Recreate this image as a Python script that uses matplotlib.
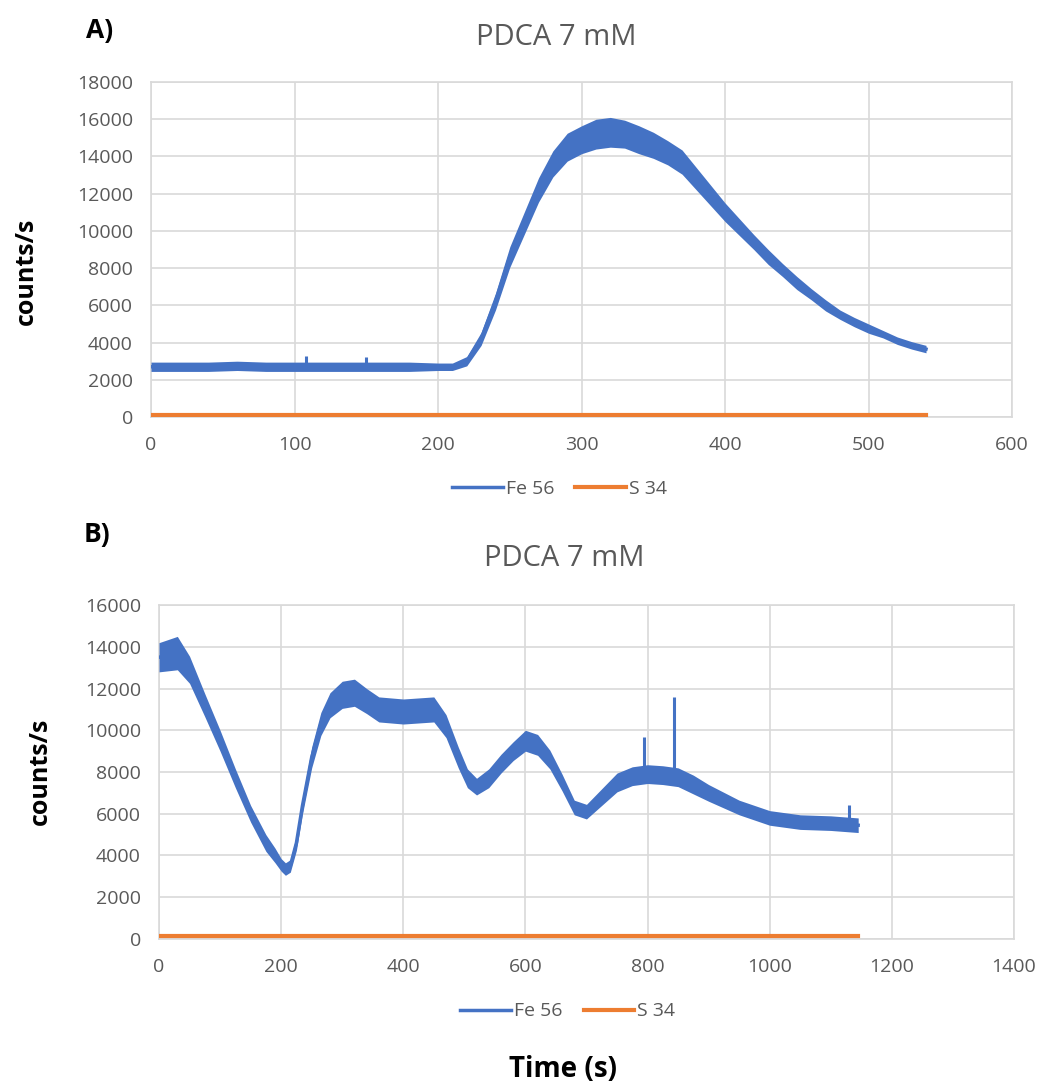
import matplotlib.pyplot as plt
import numpy as np

plt.rcParams['font.family'] = ['Open Sans', 'DejaVu Sans']

BLUE = '#4472C4'
ORANGE = '#ED7D31'
GREY = '#595959'
GRID = '#D9D9D9'

# --- panel A: Fe 56 (centre of the noisy trace and its half-spread)
time_a = [0, 20, 40, 60, 80, 100, 120, 140, 160, 180, 200, 210, 220, 230, 240, 250,
          260, 270, 280, 290, 300, 310, 320, 330, 340, 350, 360, 370, 380, 390, 400,
          410, 420, 430, 440, 450, 460, 470, 480, 490, 500, 510, 520, 530, 540]
fe_a = [2700, 2700, 2700, 2750, 2700, 2700, 2700, 2700, 2700, 2700, 2700, 2700, 3000, 4200,
        6200, 8600, 10400, 12200, 13600, 14500, 14900, 15200, 15300, 15200, 14900, 14600,
        14200, 13700, 12800, 11900, 11000, 10200, 9400, 8600, 7900, 7200, 6600, 6000,
        5500, 5100, 4750, 4450, 4100, 3850, 3650]
spread_a = [250, 250, 250, 250, 250, 250, 250, 250, 250, 250, 200, 200, 250, 350,
            450, 550, 600, 650, 700, 750, 750, 800, 800, 750, 750, 700,
            650, 650, 600, 550, 500, 450, 400, 400, 350, 350, 300, 300,
            250, 250, 250, 200, 200, 200, 200]
spike_time_a = [108, 150]
spike_top_a = [3300, 3250]
s_time_a = [0, 540]
s34_a = [130, 130]

# --- panel B
time_b = [0, 15, 30, 50, 75, 100, 125, 150, 175, 190, 200, 207, 215, 225, 235, 250, 265,
          280, 300, 320, 340, 360, 400, 450, 470, 490, 505, 520, 540, 560, 580, 600,
          620, 640, 660, 680, 700, 725, 750, 775, 800, 825, 850, 875, 900, 950, 1000,
          1050, 1100, 1145]
fe_b = [13500, 13600, 13700, 12900, 11200, 9500, 7700, 6000, 4600, 4000, 3550, 3350, 3500,
        4600, 6400, 8700, 10300, 11200, 11700, 11800, 11400, 11000, 10900, 11000, 10200,
        8700, 7700, 7300, 7700, 8400, 9000, 9500, 9300, 8600, 7500, 6300, 6100, 6800,
        7500, 7800, 7900, 7850, 7750, 7400, 7000, 6300, 5800, 5600, 5550, 5450]
spread_b = [700, 750, 800, 650, 550, 500, 450, 400, 400, 350, 300, 300, 300, 350,
            400, 500, 550, 600, 650, 650, 600, 600, 600, 600, 550, 500, 450, 400,
            450, 450, 450, 500, 500, 450, 400, 350, 350, 400, 450, 450, 450, 450,
            450, 450, 400, 350, 350, 350, 350, 350]
spike_time_b = [795, 843, 1130]
spike_top_b = [9700, 11600, 6400]
s_time_b = [0, 1145]
s34_b = [130, 130]

fig = plt.figure(figsize=(10.4, 10.84), dpi=100)


def panel(rect, t, fe, spread, sp_t, sp_top, st, s34, xmax, xstep, ymax, ystep):
    ax = fig.add_axes(rect)
    t = np.array(t)
    fe = np.array(fe)
    spread = np.array(spread)
    ax.fill_between(t, fe - spread, fe + spread, color=BLUE, lw=0, zorder=3)
    ax.plot(t, fe, color=BLUE, lw=2.5, label='Fe 56', zorder=4)
    ax.vlines(sp_t, np.interp(sp_t, t, fe), sp_top, color=BLUE, lw=2.2, zorder=4)
    ax.plot(st, s34, color=ORANGE, lw=3, label='S 34', zorder=4)
    ax.set_xlim(0, xmax)
    ax.set_ylim(0, ymax)
    ax.set_xticks(np.arange(0, xmax + 1, xstep))
    ax.set_yticks(np.arange(0, ymax + 1, ystep))
    ax.grid(True, color=GRID, lw=1.2)
    ax.set_axisbelow(True)
    for s in ax.spines.values():
        s.set_color(GRID)
        s.set_linewidth(1.2)
    ax.tick_params(length=0, labelsize=14, labelcolor=GREY, pad=13)
    ax.tick_params(axis='x', pad=14)
    return ax


ax_a = panel([0.1452, 0.6153, 0.828, 0.309], time_a, fe_a, spread_a, spike_time_a,
             spike_top_a, s_time_a, s34_a, 600, 100, 18000, 2000)
ax_b = panel([0.1529, 0.1338, 0.822, 0.308], time_b, fe_b, spread_b, spike_time_b,
             spike_top_b, s_time_b, s34_b, 1400, 200, 16000, 2000)

# titles and labels
fig.text(0.535, 0.965, 'PDCA 7 mM', ha='center', va='center', fontsize=21, color=GREY)
fig.text(0.543, 0.485, 'PDCA 7 mM', ha='center', va='center', fontsize=21, color=GREY)
fig.text(0.083, 0.972, 'A)', ha='left', va='center', fontsize=19, fontweight='bold')
fig.text(0.080, 0.507, 'B)', ha='left', va='center', fontsize=19, fontweight='bold')
fig.text(0.025, 0.750, 'counts/s', rotation=90, ha='center', va='center',
         fontsize=18, fontweight='bold')
fig.text(0.039, 0.288, 'counts/s', rotation=90, ha='center', va='center',
         fontsize=18, fontweight='bold')
fig.text(0.541, 0.013, 'Time (s)', ha='center', va='center', fontsize=20, fontweight='bold')

for ax, x, y in [(ax_a, 0.538, 0.549), (ax_b, 0.546, 0.067)]:
    ax.legend(loc='center', bbox_to_anchor=(x, y), bbox_transform=fig.transFigure,
              ncol=2, frameon=False, fontsize=14, labelcolor=GREY, handlelength=2.6,
              handletextpad=0.15, columnspacing=1.1)

fig.savefig('out.png', dpi=100)
